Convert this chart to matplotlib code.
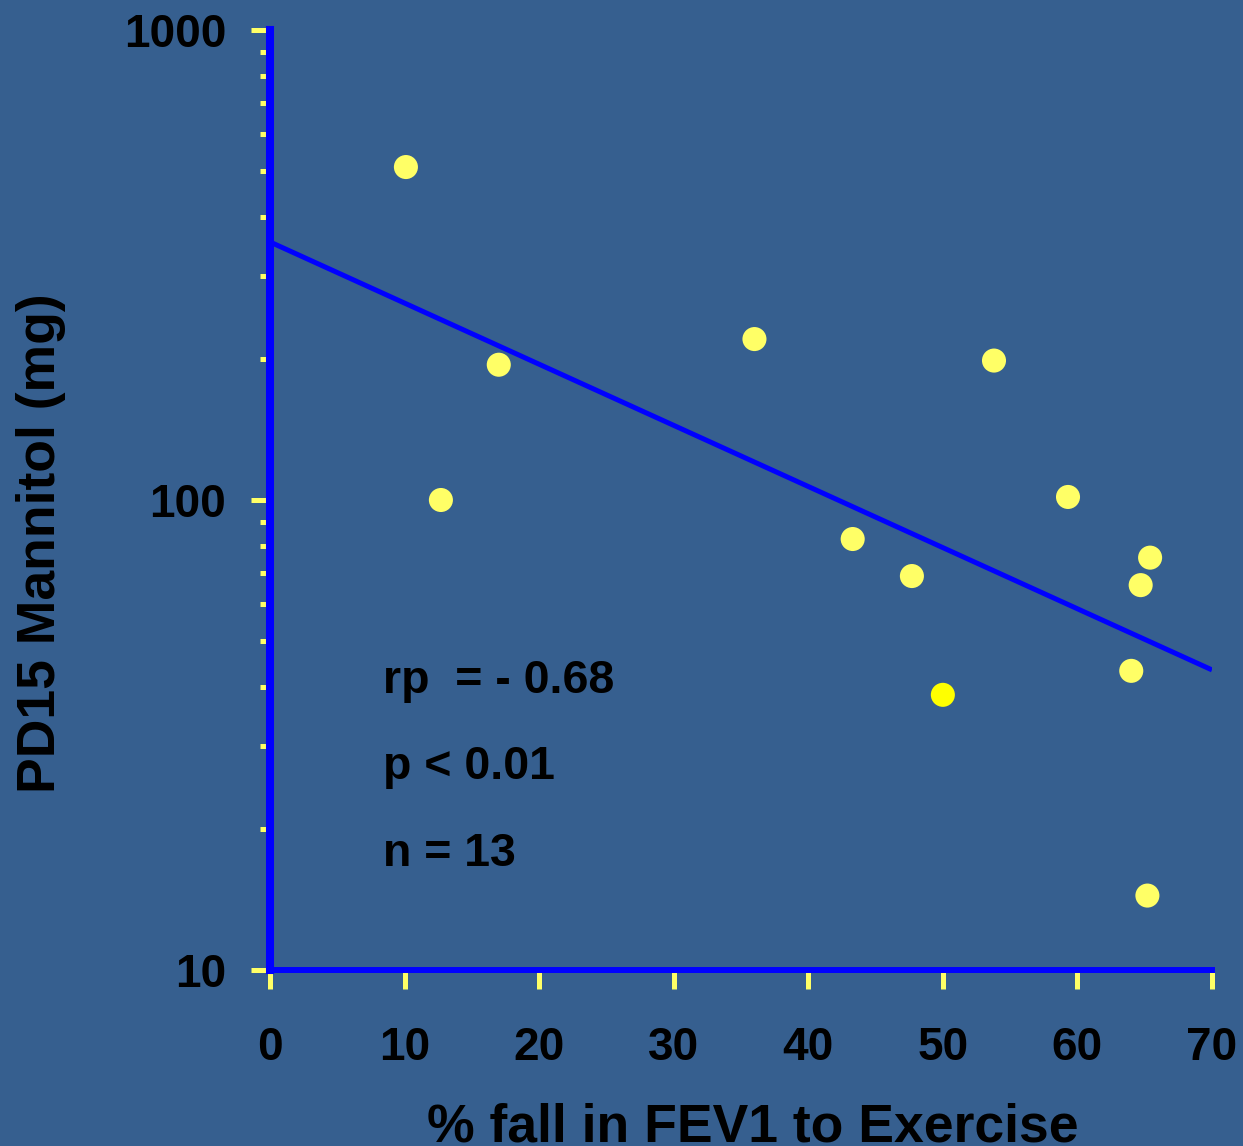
import numpy as np
import matplotlib.pyplot as plt
from matplotlib.ticker import LogLocator, NullFormatter, FixedLocator

plt.rcParams['font.family'] = ['Liberation Sans', 'DejaVu Sans']
plt.rcParams['font.weight'] = 'bold'

# data
fall_fev1 = [10.1, 17.0, 12.7, 36.0, 43.3, 47.7, 50.0, 53.8, 59.3, 65.4, 64.7, 64.0, 65.2]
pd15 = [511, 194, 100, 220, 82.6, 68.9, 38.5, 198, 101.5, 75.4, 65.9, 43.3, 14.4]
dot_colors = ['#ffff66'] * 6 + ['#ffff00'] + ['#ffff66'] * 6

fit_x = [0, 70]
fit_y = [354, 43.5]

x_ticks = [0, 10, 20, 30, 40, 50, 60, 70]
y_ticks = [10, 100, 1000]
stats = ["rp  = - 0.68", "p < 0.01", "n = 13"]

bg = '#365f8f'
W, H = 1243, 1146
fig = plt.figure(figsize=(W / 100, H / 100), dpi=100, facecolor=bg)
ax = fig.add_axes([270 / W, 1 - 970 / H, (1212 - 270) / W, (970 - 30) / H])
ax.set_facecolor(bg)

ax.set_yscale('log')
ax.set_xlim(0, 70)
ax.set_ylim(10, 1000)

ax.plot(fit_x, fit_y, color='#0000ff', lw=3.6, solid_capstyle='butt', zorder=2)
ax.scatter(fall_fev1, pd15, s=300, c=dot_colors, edgecolors='none', zorder=3, clip_on=False)

for side in ['top', 'right']:
    ax.spines[side].set_visible(False)
ax.spines['left'].set_color('#0000ff')
ax.spines['left'].set_linewidth(5.8)
ax.spines['bottom'].set_color('#0000ff')
ax.spines['bottom'].set_linewidth(4.3)
ax.spines['left'].set_zorder(4)
ax.spines['bottom'].set_zorder(4)

ax.xaxis.set_major_locator(FixedLocator(x_ticks))
ax.set_xticklabels([str(v) for v in x_ticks])
ax.yaxis.set_major_locator(FixedLocator(y_ticks))
ax.set_yticklabels([str(v) for v in y_ticks])
ax.yaxis.set_minor_locator(LogLocator(base=10, subs=np.arange(2, 10)))
ax.yaxis.set_minor_formatter(NullFormatter())

ax.tick_params(axis='x', direction='out', length=13.5, width=3.6, color='#ffff66',
               pad=27, labelsize=33, labelcolor='black')
ax.tick_params(axis='y', which='major', direction='out', length=13.5, width=3.6,
               color='#ffff66', pad=18, labelsize=33, labelcolor='black')
ax.tick_params(axis='y', which='minor', direction='out', length=7.5, width=3.6,
               color='#ffff66')
for lab in ax.get_xticklabels() + ax.get_yticklabels():
    lab.set_fontweight('bold')

# stats block
for txt, yb in zip(stats, [693, 779, 866]):
    fig.text(383 / W, 1 - yb / H, txt, fontsize=33.5, fontweight='bold',
             color='black', ha='left', va='baseline')

fig.text(753 / W, 1 - 1141 / H, '% fall in FEV1 to Exercise', fontsize=38.5,
         fontweight='bold', color='black', ha='center', va='baseline')
fig.text(55 / W, 1 - 543 / H, 'PD15 Mannitol (mg)', fontsize=38.5,
         fontweight='bold', color='black', ha='center', va='baseline',
         rotation=90, rotation_mode='anchor')

fig.savefig('out.png', dpi=100, facecolor=bg)
